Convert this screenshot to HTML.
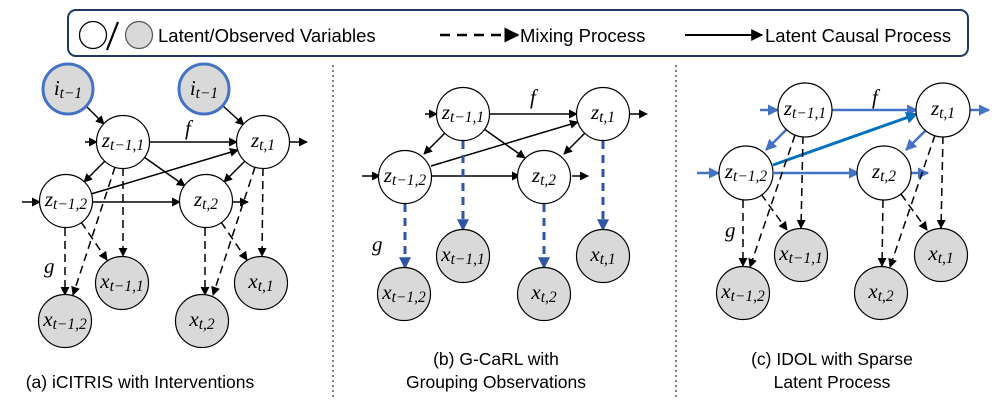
<!DOCTYPE html>
<html><head><meta charset="utf-8"><style>
html,body{margin:0;padding:0;background:#fff;}
svg{display:block;}
.nl{font-family:"Liberation Serif",serif;font-style:italic;font-size:21px;}
.sb{font-size:15.5px;}
.cap{font-family:"Liberation Sans",sans-serif;font-size:17.5px;fill:#000;}
.lg{font-family:"Liberation Sans",sans-serif;font-size:18.5px;fill:#000;}
</style></head><body>
<svg width="997" height="402" viewBox="0 0 997 402" xmlns="http://www.w3.org/2000/svg">
<defs>
<marker id="ab" viewBox="0 0 10 10" refX="9" refY="5" markerWidth="6" markerHeight="6" orient="auto"><path d="M0,0L10,5L0,10z" fill="#000"/></marker>
<marker id="abl" viewBox="0 0 10 10" refX="9" refY="5" markerWidth="4.5" markerHeight="4.5" orient="auto"><path d="M0,0L10,5L0,10z" fill="#4472c4"/></marker>
<marker id="abd" viewBox="0 0 10 10" refX="9" refY="5" markerWidth="4" markerHeight="4" orient="auto"><path d="M0,0L10,5L0,10z" fill="#0070c0"/></marker>
<marker id="abb" viewBox="0 0 10 10" refX="9" refY="5" markerWidth="4" markerHeight="4" orient="auto"><path d="M0,0L10,5L0,10z" fill="#2f55a4"/></marker>
</defs>

<!-- legend -->
<rect x="68" y="10" width="900" height="46" rx="8" fill="#fff" stroke="#1f3864" stroke-width="2"/>
<circle cx="93" cy="35" r="13.5" fill="#fff" stroke="#000" stroke-width="1.3"/>
<line x1="107" y1="50" x2="118" y2="22" stroke="#000" stroke-width="2.2"/>
<circle cx="139" cy="35" r="13.5" fill="#d9d9d9" stroke="#555" stroke-width="1.2"/>
<text x="158" y="42" class="lg">Latent/Observed Variables</text>
<line x1="440" y1="35" x2="518" y2="35" stroke="#000" stroke-width="2.5" stroke-dasharray="10 7" marker-end="url(#ab)"/>
<text x="520" y="42" class="lg">Mixing Process</text>
<line x1="685" y1="35" x2="762" y2="35" stroke="#000" stroke-width="2" marker-end="url(#ab)"/>
<text x="765" y="42" class="lg">Latent Causal Process</text>

<!-- separators -->
<line x1="333" y1="65" x2="333" y2="400" stroke="#000" stroke-width="1" stroke-dasharray="2 3"/>
<line x1="676" y1="65" x2="676" y2="400" stroke="#000" stroke-width="1" stroke-dasharray="2 3"/>

<!-- ===== panel a ===== -->
<g transform="translate(123,142)">
<g stroke="#000" stroke-width="1.5" fill="none" marker-end="url(#ab)">
<line x1="-36" y1="-35" x2="-19" y2="-18"/>
<line x1="100" y1="-36" x2="121" y2="-17"/>
<line x1="26" y1="0" x2="114" y2="0"/>
<line x1="21" y1="15" x2="62" y2="44"/>
<line x1="-18" y1="19" x2="-39" y2="40"/>
<line x1="-32" y1="52" x2="115" y2="8"/>
<line x1="-31" y1="60" x2="57" y2="60"/>
<line x1="122" y1="19" x2="101" y2="40"/>
<line x1="-38" y1="0" x2="-26" y2="0"/>
<line x1="-101" y1="60" x2="-83" y2="60"/>
<line x1="166" y1="0" x2="184" y2="0"/>
<line x1="109" y1="60" x2="125" y2="60"/>
</g>
<g stroke="#000" stroke-width="1.5" fill="none" stroke-dasharray="8 5" marker-end="url(#ab)">
<line x1="-58" y1="86" x2="-58" y2="153"/>
<line x1="-42" y1="80" x2="-16" y2="118"/>
<line x1="0" y1="26" x2="0" y2="114"/>
<line x1="-8" y1="25" x2="-50" y2="153"/>
<line x1="82" y1="86" x2="82" y2="153"/>
<line x1="98" y1="80" x2="124" y2="118"/>
<line x1="140" y1="26" x2="139" y2="114"/>
<line x1="132" y1="25" x2="90" y2="153"/>
</g>
<circle cx="-55" cy="-53" r="25" fill="#d9d9d9" stroke="#4472c4" stroke-width="3"/>
<circle cx="81" cy="-53" r="25" fill="#d9d9d9" stroke="#4472c4" stroke-width="3"/>
<text x="-55" y="-47" text-anchor="middle" class="nl">i<tspan class="sb" dy="3">t−1</tspan></text>
<text x="81" y="-47" text-anchor="middle" class="nl">i<tspan class="sb" dy="3">t−1</tspan></text>
<text x="62" y="-7" class="nl" font-size="19">f</text>
<text x="-79" y="131" class="nl" font-size="19">g</text>
</g>

<!-- ===== panel b ===== -->
<g transform="translate(463,114)">
<g stroke="#000" stroke-width="1.5" fill="none" marker-end="url(#ab)">
<line x1="26" y1="0" x2="114" y2="0"/>
<line x1="21" y1="15" x2="62" y2="44"/>
<line x1="-18" y1="19" x2="-39" y2="40"/>
<line x1="-32" y1="52" x2="115" y2="8"/>
<line x1="-31" y1="62" x2="57" y2="62"/>
<line x1="122" y1="19" x2="101" y2="40"/>
<line x1="-38" y1="0" x2="-26" y2="0"/>
<line x1="-101" y1="62" x2="-83" y2="62"/>
<line x1="166" y1="0" x2="184" y2="0"/>
<line x1="109" y1="62" x2="125" y2="62"/>
</g>
<g stroke="#2f55a4" stroke-width="3" fill="none" stroke-dasharray="8 6" marker-end="url(#abb)">
<line x1="-58" y1="90" x2="-58" y2="154"/>
<line x1="0" y1="27" x2="0" y2="116"/>
<line x1="81" y1="90" x2="81" y2="154"/>
<line x1="140" y1="27" x2="140" y2="116"/>
</g>
<text x="67" y="-10" class="nl" font-size="19">f</text>
<text x="-91" y="137" class="nl" font-size="19">g</text>
</g>

<!-- ===== panel c ===== -->
<g transform="translate(805,110)">
<g stroke="#4472c4" stroke-width="2.5" fill="none" marker-end="url(#abl)">
<line x1="26" y1="0" x2="112" y2="0"/>
<line x1="-18" y1="19" x2="-39" y2="40"/>
<line x1="-31" y1="63" x2="54" y2="63"/>
<line x1="122" y1="19" x2="101" y2="40"/>
<line x1="-45" y1="0" x2="-27" y2="0"/>
<line x1="-108" y1="63" x2="-86" y2="63"/>
<line x1="164" y1="0" x2="184" y2="0"/>
<line x1="105" y1="63" x2="123" y2="63"/>
</g>
<line x1="-32" y1="55" x2="112" y2="4" stroke="#0070c0" stroke-width="3" marker-end="url(#abd)"/>
<g stroke="#000" stroke-width="1.5" fill="none" stroke-dasharray="8 5" marker-end="url(#ab)">
<line x1="-62" y1="90" x2="-62" y2="156"/>
<line x1="-44" y1="84" x2="-18" y2="120"/>
<line x1="-2" y1="26" x2="-4" y2="118"/>
<line x1="-10" y1="25" x2="-55" y2="157"/>
<line x1="78" y1="90" x2="77" y2="156"/>
<line x1="96" y1="84" x2="122" y2="120"/>
<line x1="138" y1="26" x2="136" y2="118"/>
<line x1="130" y1="25" x2="85" y2="157"/>
</g>
<text x="67" y="-6" class="nl" font-size="19">f</text>
<text x="-80" y="127" class="nl" font-size="19">g</text>
</g>

<!-- nodes -->
<g stroke="#000" stroke-width="1.2">
<circle cx="123" cy="142" r="26.5" fill="#fff"/>
<circle cx="263" cy="142" r="26.5" fill="#fff"/>
<circle cx="66" cy="201" r="26.5" fill="#fff"/>
<circle cx="206" cy="201" r="26.5" fill="#fff"/>
<circle cx="65" cy="321" r="26.5" fill="#d9d9d9"/>
<circle cx="122" cy="283" r="26.5" fill="#d9d9d9"/>
<circle cx="202" cy="321" r="26.5" fill="#d9d9d9"/>
<circle cx="261" cy="283" r="26.5" fill="#d9d9d9"/>
<circle cx="463" cy="114" r="26.5" fill="#fff"/>
<circle cx="603" cy="114" r="26.5" fill="#fff"/>
<circle cx="405" cy="177" r="26.5" fill="#fff"/>
<circle cx="544" cy="177" r="26.5" fill="#fff"/>
<circle cx="404" cy="294" r="26.5" fill="#d9d9d9"/>
<circle cx="463" cy="256" r="26.5" fill="#d9d9d9"/>
<circle cx="544" cy="294" r="26.5" fill="#d9d9d9"/>
<circle cx="603" cy="256" r="26.5" fill="#d9d9d9"/>
<circle cx="805" cy="110" r="27" fill="#fff"/>
<circle cx="943" cy="110" r="27" fill="#fff"/>
<circle cx="746" cy="173" r="27" fill="#fff"/>
<circle cx="884" cy="173" r="27" fill="#fff"/>
<circle cx="743" cy="293" r="26.5" fill="#d9d9d9"/>
<circle cx="801" cy="255" r="26.5" fill="#d9d9d9"/>
<circle cx="881" cy="293" r="26.5" fill="#d9d9d9"/>
<circle cx="941" cy="255" r="26.5" fill="#d9d9d9"/>
</g>

<g class="nl" text-anchor="middle">
<text x="123" y="147">z<tspan class="sb" dy="3">t−1,1</tspan></text>
<text x="263" y="147">z<tspan class="sb" dy="3">t,1</tspan></text>
<text x="66" y="206">z<tspan class="sb" dy="3">t−1,2</tspan></text>
<text x="206" y="206">z<tspan class="sb" dy="3">t,2</tspan></text>
<text x="65" y="326">x<tspan class="sb" dy="3">t−1,2</tspan></text>
<text x="122" y="288">x<tspan class="sb" dy="3">t−1,1</tspan></text>
<text x="202" y="326">x<tspan class="sb" dy="3">t,2</tspan></text>
<text x="261" y="288">x<tspan class="sb" dy="3">t,1</tspan></text>

<text x="463" y="119">z<tspan class="sb" dy="3">t−1,1</tspan></text>
<text x="603" y="119">z<tspan class="sb" dy="3">t,1</tspan></text>
<text x="405" y="182">z<tspan class="sb" dy="3">t−1,2</tspan></text>
<text x="544" y="182">z<tspan class="sb" dy="3">t,2</tspan></text>
<text x="404" y="299">x<tspan class="sb" dy="3">t−1,2</tspan></text>
<text x="463" y="261">x<tspan class="sb" dy="3">t−1,1</tspan></text>
<text x="544" y="299">x<tspan class="sb" dy="3">t,2</tspan></text>
<text x="603" y="261">x<tspan class="sb" dy="3">t,1</tspan></text>

<text x="805" y="115">z<tspan class="sb" dy="3">t−1,1</tspan></text>
<text x="943" y="115">z<tspan class="sb" dy="3">t,1</tspan></text>
<text x="746" y="178">z<tspan class="sb" dy="3">t−1,2</tspan></text>
<text x="884" y="178">z<tspan class="sb" dy="3">t,2</tspan></text>
<text x="743" y="298">x<tspan class="sb" dy="3">t−1,2</tspan></text>
<text x="801" y="260">x<tspan class="sb" dy="3">t−1,1</tspan></text>
<text x="881" y="298">x<tspan class="sb" dy="3">t,2</tspan></text>
<text x="941" y="260">x<tspan class="sb" dy="3">t,1</tspan></text>
</g>

<!-- captions -->
<text x="140" y="388" text-anchor="middle" class="cap">(a) iCITRIS with Interventions</text>
<text x="496" y="365" text-anchor="middle" class="cap">(b) G-CaRL with</text>
<text x="496" y="388" text-anchor="middle" class="cap">Grouping Observations</text>
<text x="832" y="365" text-anchor="middle" class="cap">(c) IDOL with Sparse</text>
<text x="832" y="388" text-anchor="middle" class="cap">Latent Process</text>
</svg>
</body></html>
